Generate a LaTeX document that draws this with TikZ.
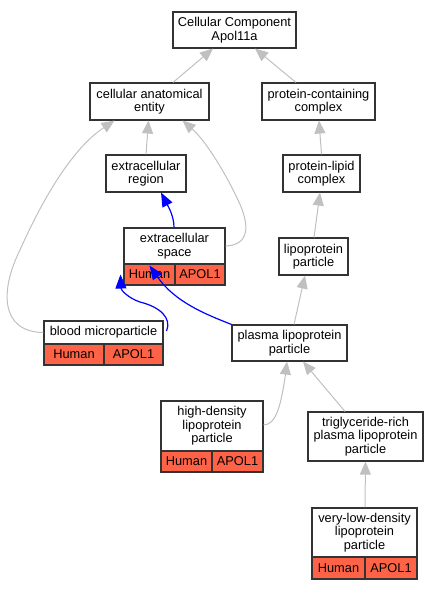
\documentclass[tikz,border=0pt]{standalone}
\usepackage{fontspec}
\setmainfont{Liberation Sans}
\usetikzlibrary{arrows.meta,calc}
\definecolor{tomato}{HTML}{FF6347}
\definecolor{edgegray}{HTML}{C0C0C0}
\definecolor{boxline}{HTML}{333333}
\begin{document}
\begin{tikzpicture}[x=1pt,y=-1pt,
  box/.style={draw=boxline,line width=1.1pt,fill=white,inner sep=0pt,align=center,
    font=\fontsize{12.8}{13.4}\selectfont},
  cell/.style={box,fill=tomato},
  isa/.style={draw=edgegray,line width=1pt,-{Triangle[length=13pt,width=11pt,fill=edgegray]}},
  blueedge/.style={draw=blue,line width=1.2pt,-{Triangle[length=14pt,width=11pt,fill=blue]}}]
\useasboundingbox (0,0) rectangle (439,589);
% plain nodes
\node[box,minimum width=123pt,minimum height=36pt] (top) at (234.5,30) {Cellular Component\\Apol11a};
\node[box,minimum width=119pt,minimum height=37pt] (cae) at (149.5,101.5) {cellular anatomical\\entity};
\node[box,minimum width=113pt,minimum height=37pt] (pcc) at (318.5,101.5) {protein-containing\\complex};
\node[box,minimum width=80pt,minimum height=37pt] (er) at (146,173.5) {extracellular\\region};
\node[box,minimum width=77pt,minimum height=37pt] (plc) at (321.5,173.5) {protein-lipid\\complex};
\node[box,minimum width=69pt,minimum height=37pt] (lp) at (313.5,256.5) {lipoprotein\\particle};
\node[box,minimum width=115pt,minimum height=36pt] (plp) at (289.5,343) {plasma lipoprotein\\particle};
\node[box,minimum width=115pt,minimum height=49pt] (trig) at (365.5,436.5) {triglyceride-rich\\plasma lipoprotein\\particle};
% record nodes
\node[box,minimum width=101pt,minimum height=36pt] (es) at (174.5,246) {extracellular\\space};
\node[cell,minimum width=51pt,minimum height=21pt] (esH) at (149.5,274.5) {Human};
\node[cell,minimum width=50pt,minimum height=21pt] (esA) at (200,274.5) {APOL1};
\node[box,minimum width=119pt,minimum height=23pt] (bm) at (103.5,332.5) {blood microparticle};
\node[cell,minimum width=60pt,minimum height=21pt] (bmH) at (74,354.5) {Human};
\node[cell,minimum width=59pt,minimum height=21pt] (bmA) at (133.5,354.5) {APOL1};
\node[box,minimum width=102pt,minimum height=50pt] (hdl) at (212,426) {high-density\\lipoprotein\\particle};
\node[cell,minimum width=51pt,minimum height=21pt] (hdlH) at (186.5,461.5) {Human};
\node[cell,minimum width=51pt,minimum height=21pt] (hdlA) at (237.5,461.5) {APOL1};
\node[box,minimum width=105pt,minimum height=49pt] (vldl) at (364.5,532.5) {very-low-density\\lipoprotein\\particle};
\node[cell,minimum width=53pt,minimum height=22pt] (vldlH) at (338.5,568) {Human};
\node[cell,minimum width=52pt,minimum height=22pt] (vldlA) at (391,568) {APOL1};
% gray is_a edges
\draw[isa] ([xshift=23.5pt]cae.north) -- ([xshift=-21.5pt]top.south);
\draw[isa] ([xshift=-22.5pt]pcc.north) -- ([xshift=20.5pt]top.south);
\draw[isa] (er.north) -- ([xshift=-1pt]cae.south);
\draw[isa] (plc.north) -- ([xshift=0.5pt]pcc.south);
\draw[isa] ([xshift=0.5pt]lp.north) -- ([xshift=-1.5pt]plc.south);
\draw[isa] ([xshift=4.5pt]plp.north) -- ([xshift=-8.5pt]lp.south);
\draw[isa] ([xshift=-20.5pt]trig.north) -- ([xshift=13.5pt]plp.south);
\draw[isa] ([xshift=0.5pt]vldl.north) -- (trig.south);
\draw[isa] (bm.west) .. controls (0,332) and (0,290) .. (20,250)
  .. controls (40,205) and (70,150) .. ([xshift=-35pt]cae.south);
\draw[isa] (es.east) .. controls (250,245) and (250,225) .. (238,200)
  .. controls (225,172) and (205,140) .. ([xshift=33pt]cae.south);
\draw[isa] ([yshift=1pt]hdl.east) .. controls (276,425) and (280,405) .. (283,390)
  .. controls (285,378) .. ([xshift=-2.5pt]plp.south);
% blue edges
\draw[blueedge] ([xshift=-0.5pt]es.north) .. controls (174,216) and (168,206) .. ([xshift=15pt]er.south);
\draw[blueedge] ([xshift=3pt,yshift=1.5pt]bm.east) .. controls (172,318) and (160,307) .. (140,302)
  .. controls (128,298) and (121,290) .. ([xshift=-3pt,yshift=11pt]esH.south west);
\draw[blueedge] (plp.north west) .. controls (205,314) and (175,302) .. ([xshift=-25pt,yshift=-1pt]es.south);
\end{tikzpicture}
\end{document}
